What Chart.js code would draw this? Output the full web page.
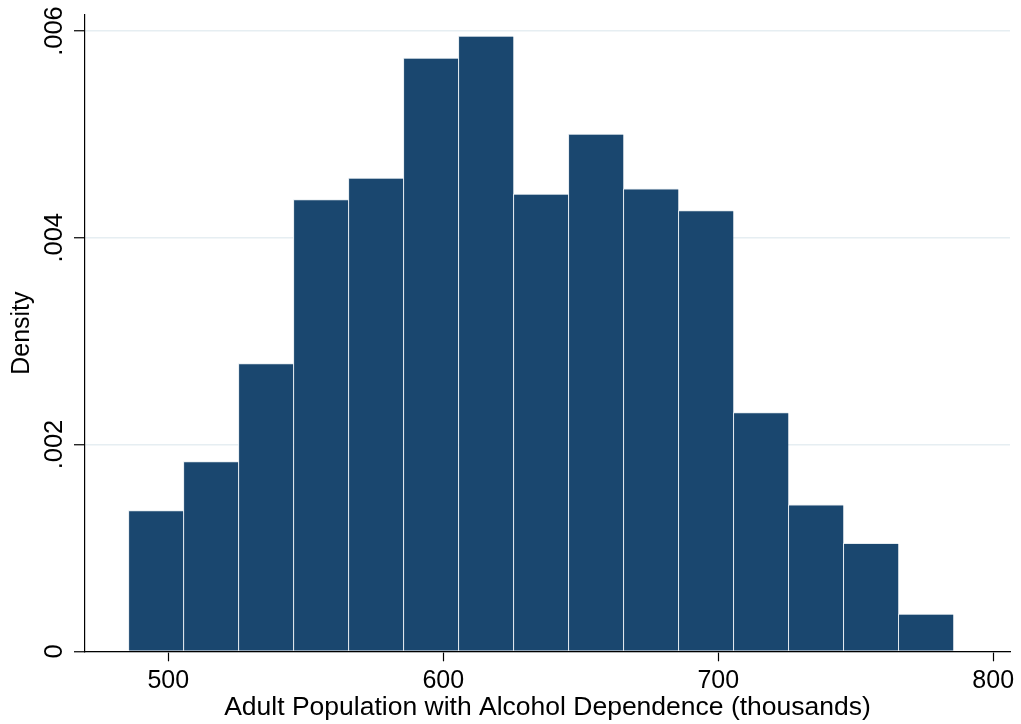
<!DOCTYPE html>
<html>
<head>
<meta charset="utf-8">
<script src="https://cdn.jsdelivr.net/npm/chart.js@4"></script>
<style>
  html, body { margin: 0; padding: 0; background: #fff; }
</style>
</head>
<body>
<canvas id="hist" width="1021" height="724"></canvas>
<script>
// bin centres (thousands), bin width 20
const binCenters = [495.5, 515.5, 535.5, 555.5, 575.5, 595.5, 615.5, 635.5, 655.5, 675.5, 695.5, 715.5, 735.5, 755.5, 775.5];
const densities = [0.001361, 0.001835, 0.002783, 0.004370, 0.004577, 0.005739, 0.005952, 0.004423, 0.005003, 0.004474, 0.004264, 0.002309, 0.001416, 0.001045, 0.000361];
const xTicks = [500, 600, 700, 800];
const yTicks = [0, 0.002, 0.004, 0.006];

const fontFamily = "'Liberation Sans', Arial, sans-serif";
const fnt = { family: fontFamily, size: 25 };

function fmtDensity(v) {
  return v === 0 ? '0' : v.toFixed(3).replace(/^0/, '');
}

// y tick labels are vertical and centred on the tick, like Stata
const yLabelPlugin = {
  id: 'yLabels',
  afterDraw(chart) {
    const s = chart.scales.y;
    const c = chart.ctx;
    c.save();
    c.font = '25.5px ' + fontFamily;
    c.fillStyle = '#000';
    c.textAlign = 'center';
    c.textBaseline = 'alphabetic';
    s.ticks.forEach(t => {
      c.save();
      c.translate(s.left + 61.5, s.getPixelForValue(t.value));
      c.rotate(-Math.PI / 2);
      c.fillText(fmtDensity(t.value), 0, 0);
      c.restore();
    });
    c.restore();
  }
};

const ctx = document.getElementById('hist');
const myChart = new Chart(ctx, {
  type: 'bar',
  data: {
    datasets: [{
      label: 'Density',
      data: binCenters.map((c, i) => ({ x: c, y: densities[i] })),
      backgroundColor: '#1a476f',
      borderColor: '#e4ebf0',
      borderWidth: { top: 1, left: 1, right: 0, bottom: 0 },
      borderSkipped: false,
      barPercentage: 1,
      categoryPercentage: 1
    }]
  },
  options: {
    responsive: false,
    animation: false,
    devicePixelRatio: 1,
    layout: { padding: { left: 0, right: 11, top: 15, bottom: 0 } },
    plugins: { legend: { display: false }, tooltip: { enabled: false } },
    scales: {
      x: {
        type: 'linear',
        min: 469.7,
        max: 806.1,
        offset: false,
        afterBuildTicks: (scale) => { scale.ticks = xTicks.map(v => ({ value: v })); },
        afterFit: (scale) => { scale.height = 72.7; },
        grid: { offset: false, drawOnChartArea: false, drawTicks: true, tickLength: 10, tickColor: '#000', tickWidth: 1.2 },
        border: { display: true, color: '#000', width: 1.2 },
        ticks: { color: '#000', font: fnt, padding: 5, maxRotation: 0, autoSkip: false },
        title: { display: true, text: 'Adult Population with Alcohol Dependence (thousands)', color: '#000', font: { family: fontFamily, size: 26.5 }, padding: { top: 0, bottom: 0 } }
      },
      y: {
        min: 0,
        max: 0.006155,
        afterBuildTicks: (scale) => { scale.ticks = yTicks.map(v => ({ value: v })); },
        afterFit: (scale) => { scale.width = 85; },
        grid: { color: '#e6eef2', lineWidth: 1.5, drawTicks: true, tickLength: 11, tickColor: '#000', tickWidth: 1.2 },
        border: { display: true, color: '#000', width: 1.2 },
        ticks: { display: false },
        title: { display: true, text: 'Density', color: '#000', font: fnt, padding: { top: 7, bottom: 0 } }
      }
    }
  },
  plugins: [yLabelPlugin]
});
</script>
</body>
</html>
